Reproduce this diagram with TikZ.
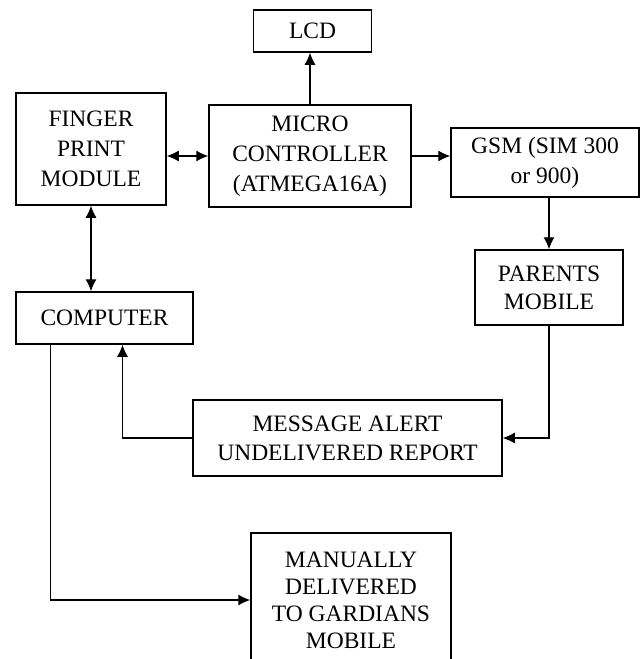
\documentclass[tikz,border=0pt]{standalone}
\usepackage{fontspec}
\setmainfont{Liberation Serif}
\usetikzlibrary{arrows.meta}
\tikzset{
  blocco/.style={draw, line width=0.75pt, align=center, inner sep=0pt, font=\fontsize{11.75}{15}\selectfont},
  freccia/.style={line width=0.6pt, -{Latex[length=6pt,width=5.5pt]}},
  doppia/.style={line width=0.6pt, {Latex[length=6pt,width=5.5pt]}-{Latex[length=6pt,width=5.5pt]}},
}
\begin{document}
\begin{tikzpicture}[x=0.5pt,y=-0.5pt]
  \useasboundingbox (0,0) rectangle (641,659);
  %blocchi
  \node[blocco, minimum width=59pt, minimum height=21pt] (lcd) at (312.5,31) {LCD};
  \node[blocco, minimum width=75pt, minimum height=56pt] (fpm) at (91,149) {FINGER\\PRINT\\MODULE};
  \node[blocco, minimum width=101pt, minimum height=51pt] (mc) at (310,156) {MICRO\\CONTROLLER\\(ATMEGA16A)};
  \node[blocco, minimum width=94pt, minimum height=34.5pt] (gsm) at (545,162.5) {GSM (SIM 300\\or 900)};
  \node[blocco, minimum width=74pt, minimum height=37.5pt, font=\fontsize{11.75}{14}\selectfont] (parents) at (549,287.5) {PARENTS\\MOBILE};
  \node[blocco, minimum width=88.5pt, minimum height=26pt] (comp) at (104.5,318) {COMPUTER};
  \node[blocco, minimum width=154.5pt, minimum height=38pt, font=\fontsize{11.75}{14.5}\selectfont] (alert) at (347.5,438) {MESSAGE ALERT\\UNDELIVERED REPORT};
  \node[blocco, minimum width=100pt, minimum height=67pt, font=\fontsize{11.75}{13.5}\selectfont] (manual) at (351,600) {MANUALLY\\DELIVERED\\TO GARDIANS\\MOBILE};
  %frecce
  \draw[freccia] (mc.north) -- (mc.north |- lcd.south);
  \draw[doppia] (mc.west) -- (mc.west -| fpm.east);
  \draw[freccia] (mc.east) -- (mc.east -| gsm.west);
  \draw[freccia] (gsm.south -| parents.north) -- (parents.north);
  \draw[doppia] (fpm.south) -- (fpm.south |- comp.north);
  \draw[freccia] (parents.south) |- (alert.east);
  \draw[freccia] (alert.west) -| ([xshift=9pt]comp.south);
  \draw[freccia] ([xshift=17.5pt]comp.south west) |- (manual.west);
\end{tikzpicture}
\end{document}
